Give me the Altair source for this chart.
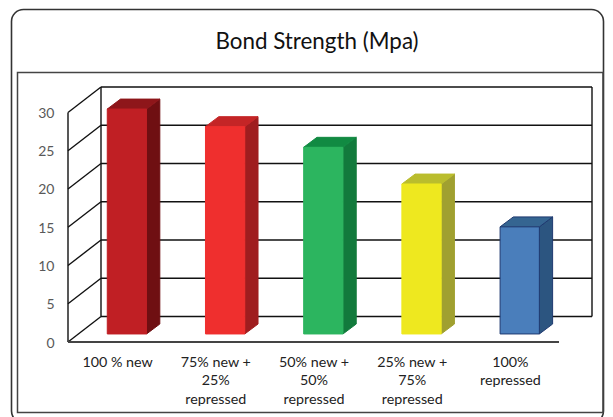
import json
import altair as alt
import pandas as pd

title_text = "Bond Strength (Mpa)"
cat_lines = [
    ["100 % new"],
    ["75% new  +", "25%", "repressed"],
    ["50% new +", "50%", "repressed"],
    ["25% new +", "75%", "repressed"],
    ["100%", "repressed"],
]
values = [29.4, 27.1, 24.4, 19.6, 14.0]
front = ["#C01F24", "#EF2F2E", "#2CB55F", "#EEE81F", "#4A7EBB"]
side = ["#6F0F12", "#9F1D1F", "#127A3C", "#A0A030", "#2C5580"]
top = ["#8E161A", "#C42526", "#118A42", "#BABD2D", "#356591"]
edge = ["#C01F24", "#EF2F2E", "#2CB55F", "#EEE81F", "#1F3A70"]
ticks = [0, 5, 10, 15, 20, 25, 30]

N = len(values)
DX, DY = 0.336, 3.33            # wall depth in axis units
BX, BY = 0.135, 1.3             # bar depth in axis units
BAR_L, BAR_W, BAR_BASE = 0.4, 0.4, 1.05
XMAX, YMAX = N + DX, 30 + DY

labels_expr = f"{json.dumps(cat_lines)}[datum.value - 0.5]"
x_s = alt.Scale(domain=[0, XMAX], nice=False, zero=False)
y_s = alt.Scale(domain=[0, YMAX], nice=False, zero=False)
x_axis = alt.Axis(values=[i + 0.5 for i in range(N)], labelExpr=labels_expr,
                  domain=False, ticks=False, grid=False, labelAngle=0, title=None,
                  labelFont="Lato", labelFontSize=14.3, labelColor="#222222",
                  labelPadding=13, labelLineHeight=18.7, labelBaseline="top",
                  labelAlign="center", labelFlush=False, labelOverlap=False)
y_axis = alt.Axis(values=ticks, domain=False, ticks=False, grid=False, title=None,
                  labelFont="Lato", labelFontSize=14, labelColor="#595959",
                  labelPadding=14, labelOffset=1)
X = lambda f: alt.X(f, type="quantitative", scale=x_s, axis=x_axis)
Y = lambda f: alt.Y(f, type="quantitative", scale=y_s, axis=y_axis)

fronts, sides, tops = [], [], []
for i, v in enumerate(values):
    l = i + BAR_L
    r = l + BAR_W
    t = BAR_BASE + v
    fronts.append(dict(c=i, l=l, r=r, b=BAR_BASE, t=t, fill=front[i], stroke=edge[i]))
    for k in (0, 1):
        sides.append(dict(c=i, x=r + k * BX, y=BAR_BASE + k * BY, y2=t + k * BY,
                          fill=side[i], stroke=edge[i] if i == 4 else side[i]))
        tops.append(dict(c=i, y=t + k * BY, x=l + k * BX, x2=r + k * BX,
                         fill=top[i], stroke=edge[i] if i == 4 else top[i]))

grid = pd.DataFrame({"v": ticks})
grid["b"] = grid.v + DY
grid["x0"], grid["xd"], grid["xe"] = 0.0, DX, XMAX

line = dict(color="#111111", strokeWidth=1.4)

outer = alt.Chart().mark_rect(filled=False, stroke="#333333", strokeWidth=1.6, cornerRadius=12).encode(
    x=alt.value(-56.5), x2=alt.value(535.5), y=alt.value(-77.5), y2=alt.value(336))
inner = alt.Chart().mark_rect(filled=False, stroke="#444444", strokeWidth=1.5).encode(
    x=alt.value(-50.5), x2=alt.value(535), y=alt.value(-14.5), y2=alt.value(325.5))

back = alt.Chart(grid).mark_rule(**line).encode(x=X("xd"), x2="xe", y=Y("b"))
wall = alt.Chart(grid).mark_rule(**line).encode(x=X("x0"), x2="xd", y=Y("v"), y2="b")

verts = pd.DataFrame({"x": [0.0, DX, XMAX], "y": [0.0, DY, DY], "y2": [30.0, YMAX, YMAX]})
vertical = alt.Chart(verts).mark_rule(**line).encode(x=X("x"), y=Y("y"), y2="y2")

floor = alt.Chart(pd.DataFrame({"x": [0], "x2": [N], "y": [0]})).mark_rule(
    color="#444444", strokeWidth=1.8).encode(x=X("x"), x2="x2", y=Y("y"))

fr = alt.Chart(pd.DataFrame(fronts)).mark_rect(strokeWidth=1).encode(
    x=X("l"), x2="r", y=Y("b"), y2="t",
    fill=alt.Fill("fill:N", scale=None), stroke=alt.Stroke("stroke:N", scale=None))
sd = alt.Chart(pd.DataFrame(sides)).mark_area(orient="vertical", strokeWidth=1, opacity=1).encode(
    x=X("x"), y=Y("y"), y2="y2", detail="c:N",
    fill=alt.Fill("fill:N", scale=None), stroke=alt.Stroke("stroke:N", scale=None))
tp = alt.Chart(pd.DataFrame(tops)).mark_area(orient="horizontal", strokeWidth=1, opacity=1).encode(
    y=Y("y"), x=X("x"), x2="x2", detail="c:N",
    fill=alt.Fill("fill:N", scale=None), stroke=alt.Stroke("stroke:N", scale=None))

chart = alt.layer(outer, inner, back, wall, vertical, floor, sd, tp, fr).properties(
    width=524,
    height=255,
    padding=alt.Padding(left=60, top=79, right=13, bottom=75),
    autosize=alt.AutoSizeParams(type="none"),
    background="white",
    title=alt.TitleParams(title_text, font="Lato", fontSize=22.4, fontWeight="normal",
                          color="#111111", anchor="middle", frame="group", dx=-13, offset=0, dy=45),
).configure_view(stroke=None)

chart.save("out.html", embed_options={"renderer": "svg", "actions": False})
